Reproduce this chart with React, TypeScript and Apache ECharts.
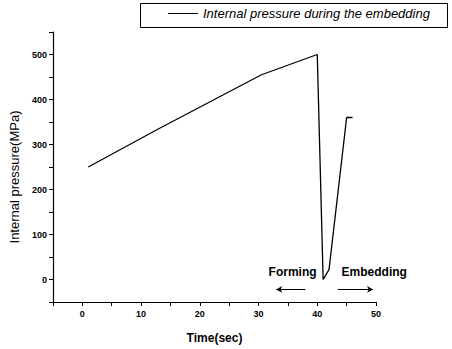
import React, { useEffect, useRef } from "react";
import * as echarts from "echarts";

const timeSec = [1, 13, 30.5, 40, 41, 42, 45, 46];
const pressureMPa = [250, 335, 455, 500, 0, 22, 360, 360];
const seriesName = "Internal pressure during the embedding";
const xTitle = "Time(sec)";
const yTitle = "Internal pressure(MPa)";
const formingArrow = [[38, -22], [33, -22]];
const embeddingArrow = [[43.5, -22], [49.5, -22]];
const phaseLabels = [
  { text: "Forming", at: [35.8, 16] },
  { text: "Embedding", at: [49.7, 16] },
];

export default function App() {
  const ref = useRef<HTMLDivElement>(null);
  useEffect(() => {
    if (!ref.current) return;
    const chart = echarts.init(ref.current, null, { renderer: "svg" });
    const font = "Arial, 'Liberation Sans', sans-serif";
    chart.setOption({
      animation: false,
      backgroundColor: "#fff",
      textStyle: { fontFamily: font, color: "#000" },
      grid: { left: 53, right: 76, top: 32, bottom: 46 },
      graphic: [
        {
          type: "rect",
          shape: { x: 140.5, y: 3.5, width: 307, height: 24 },
          style: { fill: "none", stroke: "#000", lineWidth: 1 },
          z: 10,
        },
      ],
      legend: {
        left: 168,
        top: 7,
        padding: 0,
        itemWidth: 30,
        itemHeight: 2,
        itemGap: 6,
        textStyle: { fontFamily: font, fontSize: 13, fontStyle: "italic", color: "#000" },
        data: [{ name: seriesName, icon: "path://M0,0 L30,0 L30,1 L0,1 Z" }],
      },
      xAxis: {
        type: "value",
        min: -5,
        max: 50,
        interval: 5,
        name: xTitle,
        nameLocation: "middle",
        nameGap: 30,
        nameTextStyle: { fontFamily: font, fontSize: 12, fontWeight: "bold", color: "#000" },
        splitLine: { show: false },
        axisLine: { onZero: false, lineStyle: { color: "#000", width: 1.2 } },
        axisTick: { length: 4, inside: false, lineStyle: { color: "#000" }, interval: 0 },
        axisLabel: {
          fontFamily: font,
          fontSize: 9,
          fontWeight: "bold",
          color: "#000",
          margin: 7,
          formatter: (v: number) => (v % 10 === 0 ? String(v) : ""),
        },
      },
      yAxis: {
        type: "value",
        min: -50,
        max: 550,
        interval: 50,
        name: yTitle,
        nameLocation: "middle",
        nameGap: 31,
        nameRotate: 90,
        nameTextStyle: { fontFamily: font, fontSize: 13, color: "#000", padding: [0, 20, 0, 0] },
        splitLine: { show: false },
        axisLine: { onZero: false, lineStyle: { color: "#000", width: 1.2 } },
        axisTick: { length: 4, lineStyle: { color: "#000" } },
        axisLabel: {
          fontFamily: font,
          fontSize: 9,
          fontWeight: "bold",
          color: "#000",
          margin: 6,
          formatter: (v: number) => (v % 100 === 0 ? String(v) : ""),
        },
      },
      series: [
        {
          name: seriesName,
          type: "line",
          data: timeSec.map((t, i) => [t, pressureMPa[i]]),
          symbol: "none",
          lineStyle: { color: "#000", width: 1.3 },
          itemStyle: { color: "#000" },
          markLine: {
            silent: true,
            symbol: ["none", "arrow"],
            symbolSize: [5, 6],
            label: { show: false },
            lineStyle: { color: "#000", width: 1, type: "solid" },
            data: [
              [{ coord: formingArrow[0] }, { coord: formingArrow[1] }],
              [{ coord: embeddingArrow[0] }, { coord: embeddingArrow[1] }],
            ],
          },
          markPoint: {
            silent: true,
            symbol: "circle",
            symbolSize: 0,
            label: {
              show: true,
              fontFamily: font,
              fontSize: 12,
              fontWeight: "bold",
              color: "#000",
              formatter: (p: any) => p.name,
            },
            data: phaseLabels.map((p) => ({ name: p.text, coord: p.at })),
          },
        },
      ],
    });
    return () => chart.dispose();
  }, []);
  return (
    <div
      ref={ref}
      style={{ position: "fixed", left: 0, top: 0, width: 452, height: 349 }}
    />
  );
}
